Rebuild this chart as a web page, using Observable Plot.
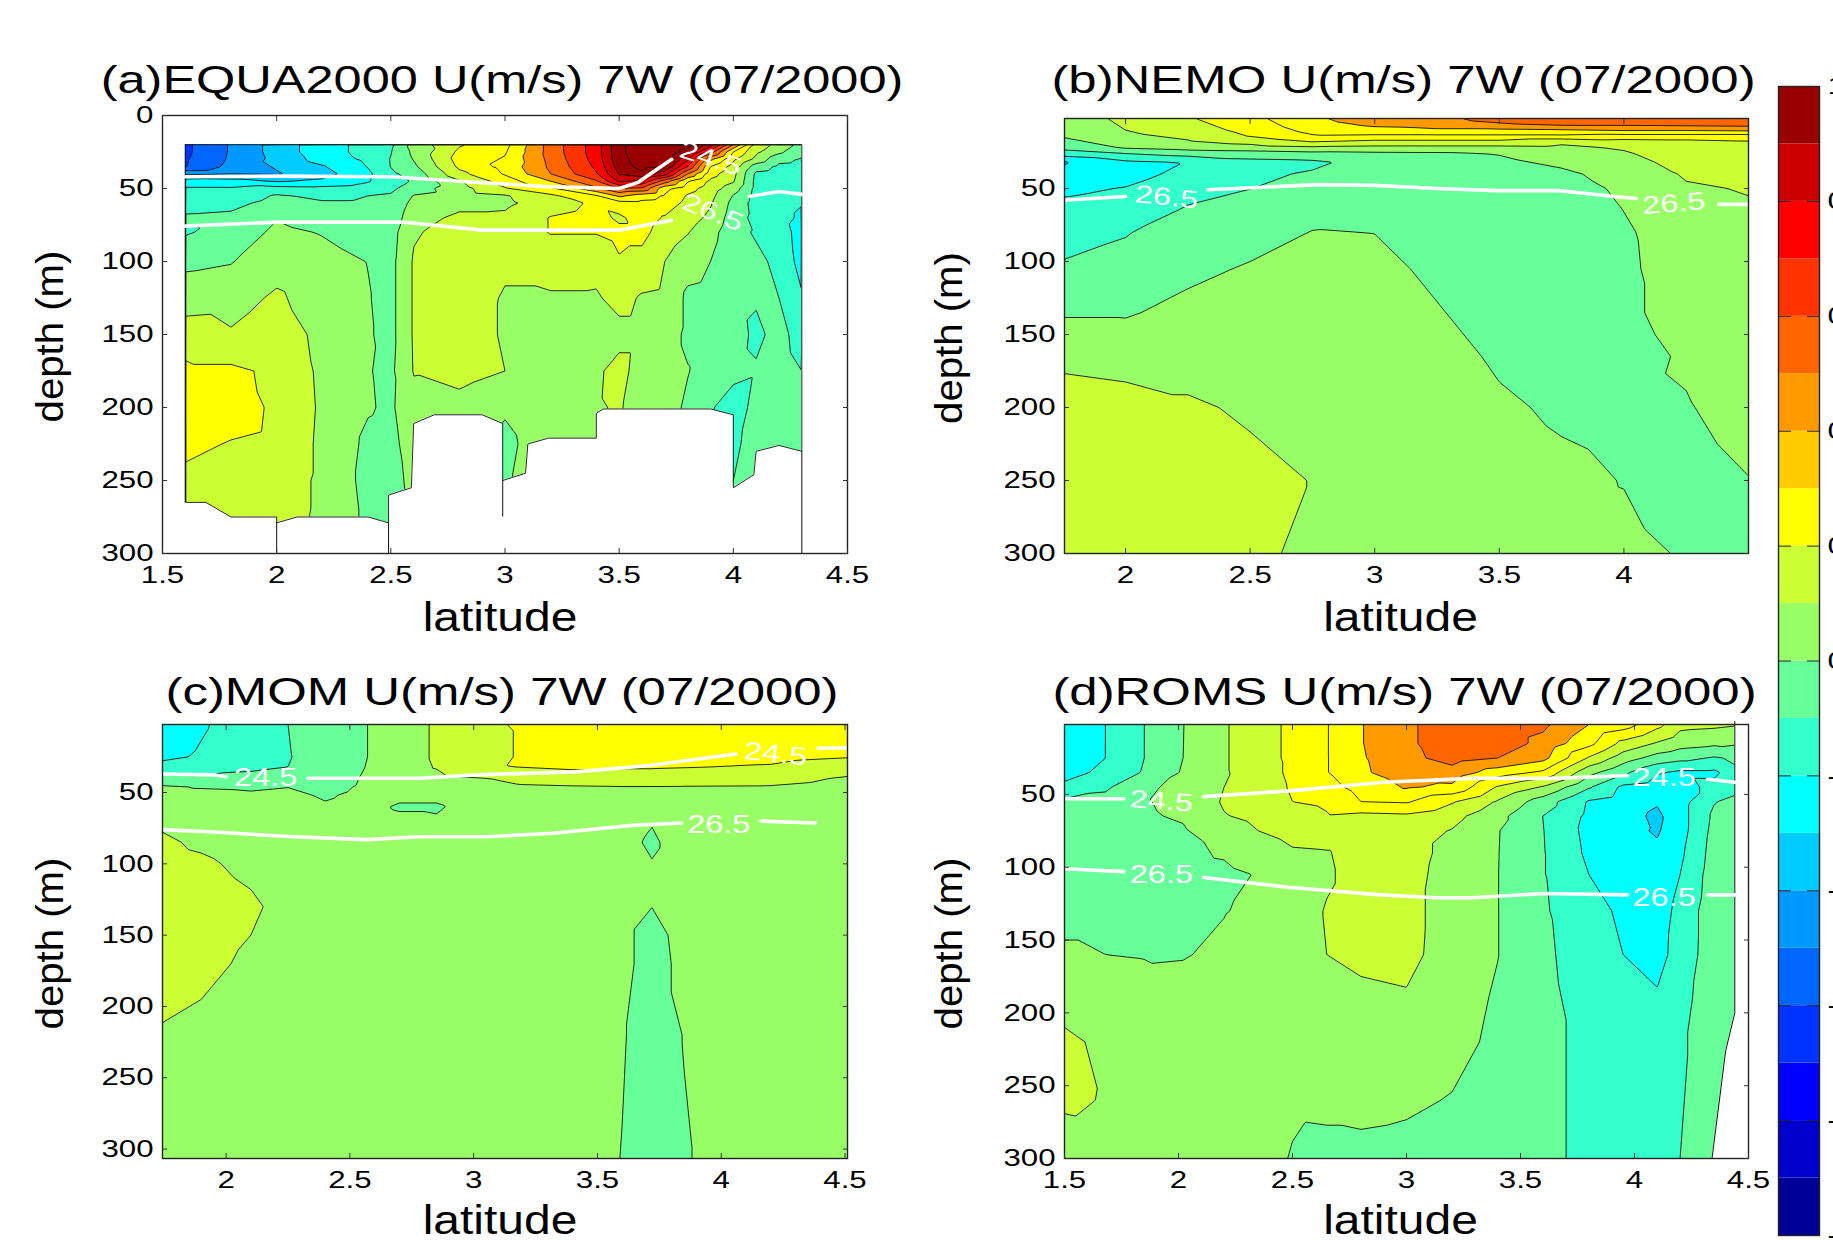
<!DOCTYPE html>
<html>
<head>
<meta charset="utf-8">
<script src="https://cdn.jsdelivr.net/npm/d3@7"></script>
<script src="https://cdn.jsdelivr.net/npm/@observablehq/plot@0.6"></script>
<style>
html,body{margin:0;padding:0;background:#fff;width:1833px;height:1240px;overflow:hidden}
#page{position:relative;width:1833px;height:1240px;overflow:hidden}
</style>
</head>
<body>
<div id="page"></div>
<script>
// contour levels and colours (m/s)
const levels = [-1,-0.9,-0.8,-0.7,-0.6,-0.5,-0.4,-0.3,-0.2,-0.1,0,0.1,0.2,0.3,0.4,0.5,0.6,0.7,0.8,0.9,1];
const barColors = ["#000099","#0000CC","#0000FF","#0033FF","#0066FF","#0099FF","#00CCFF","#00FFFF","#33FFCC","#66FF99","#99FF66","#CCFF33","#FFFF00","#FFCC00","#FF9900","#FF6600","#FF3300","#FF0000","#CC0000","#990000"];
const bandColors = ["#000099","#0000CC","#0000FF","#0033FF","#0066FF","#0099FF","#00CCFF","#00FFFF","#33FFCC","#66FF99","#99FF66","#CCFF33","#FFFF00","#FFFF00","#FF9900","#FF6600","#FF3300","#FF0000","#CC0000","#990000","#990000"];
const barTicks = [-1,-0.8,-0.6,-0.4,-0.2,0,0.2,0.4,0.6,0.8,1];

// (a) EQUA2000
const latA = [1.6,1.8,2,2.2,2.4,2.5,2.6,2.8,3,3.2,3.4,3.5,3.6,3.7,3.8,3.9,4,4.1,4.2,4.3];
const depthA = [20,25,30,35,40,45,50,55,60,70,80,100,125,150,175,200,225,250,275,300];
const uA = [
[-.62,-.62,-.61,-.605,-.42,-.25,-.19,-.16,-.13,-.09,-.11,-.02,.05,.15,.22,.27,.22,.18,.17,.15],
[-.49,-.49,-.485,-.47,-.4,-.26,-.19,-.16,-.125,-.08,-.06,-.005,.06,.11,.22,.24,.195,.17,.15,.15],
[-.36,-.36,-.37,-.39,-.41,-.31,-.16,-.09,-.07,-.005,.02,.06,.115,.16,.18,.185,.18,.16,.15,.14],
[-.24,-.24,-.26,-.31,-.34,-.28,-.17,-.12,-.09,-.04,-.005,.03,.05,.07,.08,.085,.08,.08,.08,.08],
[-.17,-.17,-.18,-.195,-.22,-.21,-.15,-.1,-.09,-.06,-.04,-.002,.005,.01,.005,.008,-.02,-.03,-.02,-.02],
[-.12,-.105,-.095,-.097,-.12,-.14,-.12,-.09,-.08,-.06,-.04,-.03,-.03,-.03,-.02,-.015,-.03,-.04,-.03,-.02],
[.04,.02,.005,-.02,-.06,-.09,-.05,.005,.03,.06,.09,.11,.11,.11,.105,.07,.05,.03,.02,.02],
[.19,.22,.24,.22,.17,.09,.06,.05,.07,.12,.14,.16,.16,.15,.14,.06,.05,.05,.05,.05],
[.27,.29,.31,.33,.31,.25,.19,.09,.08,.12,.14,.12,.09,.09,.1,.01,-.02,-.01,0,0],
[.54,.54,.53,.52,.5,.4,.28,.18,.15,.205,.205,.14,.09,.07,.065,.06,.05,.05,.05,.05],
[.75,.75,.74,.72,.69,.59,.48,.29,.22,.24,.205,.13,.09,.06,.085,.09,.09,.09,.09,.09],
[.98,.98,.97,.95,.91,.82,.6,.42,.26,.18,.23,.19,.13,.07,.13,.11,.1,.1,.1,.1],
[1.05,1.05,1.04,1.03,.98,.78,.58,.35,.27,.25,.23,.165,.09,.07,.06,.05,.05,.05,.05,.05],
[1.1,1.1,1.08,1,.85,.55,.33,.29,.26,.19,.15,.1,.08,.05,.05,.05,.05,.05,.05,.05],
[1.05,.95,.82,.7,.5,.31,.24,.19,.17,.14,.105,.04,-.02,-.02,.005,-.02,-.03,-.03,-.03,-.03],
[.85,.65,.42,.3,.24,.18,.15,.13,.11,.08,.04,0,-.03,-.04,-.05,-.09,-.1,-.1,-.1,-.1],
[.5,.3,.22,.16,.13,.11,.05,-.005,-.03,-.05,-.07,-.09,-.07,-.06,-.07,-.15,-.12,-.1,-.09,-.09],
[.17,.12,.07,-.05,-.12,-.13,-.13,-.14,-.14,-.13,-.11,-.08,-.09,-.12,-.09,-.07,-.06,-.09,-.09,-.09],
[.06,.02,-.07,-.12,-.14,-.15,-.15,-.16,-.16,-.16,-.14,-.12,-.1,-.07,-.06,-.06,-.05,-.05,-.05,-.05],
[-.03,-.08,-.11,-.13,-.15,-.16,-.17,-.18,-.195,-.22,-.25,-.24,-.19,-.14,-.1,-.07,-.06,-.05,-.05,-.05]
];
const bedLatA = [1.6,1.6,1.69,1.8,2,2,2.09,2.4,2.49,2.49,2.59,2.6,2.69,2.9,2.99,2.99,3.09,3.1,3.19,3.4,3.4,3.43,3.9,4,4,4.09,4.1,4.2,4.3,4.3];
const bedDepthA = [20,265,265,275,275,279,275,275,279,260,255,211,205,205,211,250,245,225,221,221,204,201,201,205,255,246,230,226,230,20];
const stubLatA = [2,2.49,2.99,4.3];
const stubTopA = [279,279,250,230];
const stubEndA = [300,300,275,300];
const isoLatA = [1.6,2,2.5,2.85,3.18,3.5,3.58,3.73,NaN,1.6,2,2.55,2.9,3.3,3.5,3.73,NaN,4.07,4.2,4.3];
const isoDepthA = [42,41.5,42,45.5,48.7,50,46,30,NaN,75.8,73,73,78.5,78.5,78.5,71.8,NaN,55.5,52,54];
const tagTextA = ["24.5","26.5"];
const tagLatA = [3.9,3.91];
const tagDepthA = [29.5,66.4];
const tagTurnA = [18,22];

// (b) NEMO
const latB = [1.75,2,2.25,2.5,2.75,3,3.25,3.5,3.75,4,4.25,4.5];
const depthB = [2,6,10,14,18,22,26,32,40,50,65,80,105,135,165,200,250,300];
const uB = [
[.05,.04,.03,.01,-.03,-.07,-.15,-.31,-.27,-.22,-.17,-.13,-.09,-.01,.08,.14,.17,.15],
[.12,.11,.10,.08,.05,.01,-.1,-.22,-.24,-.195,-.15,-.105,-.07,-.01,.07,.13,.16,.15],
[.19,.17,.15,.12,.09,.04,-.06,-.195,-.17,-.13,-.09,-.06,-.025,.03,.07,.11,.14,.13],
[.27,.25,.23,.205,.13,.06,-.05,-.13,-.12,-.101,-.07,-.04,.01,.04,.07,.09,.12,.12],
[.38,.36,.33,.29,.2,.08,-.03,-.12,-.09,-.07,-.03,.003,.03,.05,.07,.085,.098,.08],
[.46,.42,.37,.28,.17,.07,-.02,-.06,-.05,-.04,-.02,-.001,.02,.04,.055,.07,.08,.065],
[.48,.46,.38,.28,.17,.07,-.015,-.05,-.05,-.04,-.035,-.03,-.015,.005,.025,.04,.055,.05],
[.53,.49,.38,.28,.17,.07,.005,-.02,-.04,-.05,-.05,-.05,-.04,-.03,-.01,.01,.03,.04],
[.55,.52,.39,.28,.12,.08,.05,.02,-.02,-.05,-.06,-.06,-.05,-.04,-.03,-.01,.015,.02],
[.57,.52,.41,.26,.16,.11,.09,.07,.04,.02,.001,-.012,-.015,-.015,-.03,-.02,-.002,.015],
[.58,.53,.41,.26,.17,.16,.15,.13,.11,.09,.075,.05,.04,.03,.01,-.005,-.03,-.005],
[.595,.54,.42,.26,.19,.18,.17,.15,.13,.105,.09,.08,.07,.06,.05,.03,-.002,-.03]
];
const isoLatB = [1.75,2,NaN,2.33,2.77,3,3.25,3.49,3.74,3.96,4.05,NaN,4.38,4.5];
const isoDepthB = [58,55.4,NaN,50.8,47.3,47.8,50,51.4,51.4,55.4,56.8,NaN,60.8,60.8];
const tagTextB = ["26.5","26.5"];
const tagLatB = [2.165,4.2];
const tagDepthB = [56,60.3];
const tagTurnB = [6,-5];

// (c) MOM
const latC = [1.74,1.9,2.1,2.25,2.4,2.55,2.7,2.85,3.1,3.4,3.6,3.72,3.85,4.2,4.52];
const depthC = [2,25,32,40,46,52,60,70,85,100,130,170,220,307];
const uC = [
[-.25,-.22,-.17,-.05,.01,.02,.04,.09,.11,.12,.14,.125,.095,.07],
[-.21,-.19,-.15,-.08,-.005,.02,.04,.06,.09,.11,.13,.115,.085,.06],
[-.15,-.14,-.12,-.07,-.01,.01,.03,.05,.07,.085,.11,.09,.06,.05],
[-.1,-.105,-.1,-.05,-.002,.02,.04,.05,.06,.07,.08,.07,.055,.05],
[-.05,-.06,-.07,-.05,-.03,-.01,.01,.04,.05,.055,.06,.06,.05,.05],
[-.01,-.01,-.005,.005,.01,.02,.03,.04,.05,.05,.05,.05,.05,.05],
[.06,.06,.06,.06,.05,.02,-.01,.02,.05,.05,.05,.05,.05,.05],
[.11,.11,.105,.08,.05,.02,-.01,.01,.05,.05,.05,.05,.05,.05],
[.19,.19,.195,.105,.085,.07,.06,.05,.05,.05,.05,.05,.05,.05],
[.28,.24,.22,.14,.095,.07,.06,.05,.045,.04,.04,.04,.04,.04],
[.29,.25,.21,.15,.098,.07,.05,.03,.02,.02,.02,.02,.005,-.002],
[.29,.25,.21,.15,.098,.07,.04,.004,-.01,.003,.0005,-.03,-.03,-.03],
[.29,.24,.205,.14,.097,.07,.05,.04,.03,.03,.03,.02,.002,-.005],
[.29,.23,.19,.13,.095,.07,.05,.05,.05,.05,.05,.05,.05,.05],
[.29,.205,.14,.09,.07,.06,.05,.05,.05,.05,.05,.05,.05,.05]
];
const isoLatC = [1.745,1.95,2,NaN,2.33,2.78,3.01,3.41,3.71,4.06,NaN,4.39,4.51,NaN,1.745,1.95,2.27,2.57,2.78,3.06,3.32,3.64,3.84,NaN,4.16,4.38];
const isoDepthC = [37,37.6,39,NaN,40,40,37.6,35.5,31,23,NaN,19,18.6,NaN,76,77.7,81,83,81,81,78.5,73,71.4,NaN,70,71.4];
const tagTextC = ["24.5","24.5","26.5"];
const tagLatC = [2.16,4.22,3.99];
const tagDepthC = [39.7,23,73];
const tagTurnC = [0,6,0];

// (d) ROMS
const latD = [1.5,1.68,1.85,2.02,2.2,2.35,2.5,2.65,2.8,3,3.2,3.4,3.6,3.8,3.95,4.1,4.2,4.35,4.5];
const depthD = [2,15,25,35,45,55,65,75,90,105,130,160,190,220,260,300];
const uD = [
[-.27,-.26,-.25,-.23,-.18,-.08,-.06,-.05,-.04,-.03,-.02,.01,.06,.12,.115,.05],
[-.2,-.2,-.2,-.18,-.115,-.07,-.05,-.04,-.03,-.03,-.02,0,.05,.08,.095,.06],
[-.1,-.1,-.1,-.09,-.02,-.005,-.01,-.03,-.03,-.03,-.02,-.005,.04,.06,.07,.05],
[-.002,-.001,0,.01,.03,.02,.01,-.01,-.02,-.03,-.03,-.003,.02,.04,.05,.05],
[.09,.09,.09,.09,.1,.11,.095,.06,.01,-.02,-.002,.01,.03,.05,.05,.05],
[.16,.16,.16,.15,.15,.14,.12,.1,.05,.005,.01,.03,.05,.05,.04,.03],
[.22,.22,.22,.22,.21,.2,.15,.13,.09,.07,.06,.06,.06,.05,.012,-.005],
[.295,.295,.295,.295,.27,.22,.19,.14,.095,.09,.105,.1,.06,.05,.015,-.02],
[.395,.395,.39,.385,.33,.3,.17,.14,.13,.13,.13,.12,.08,.05,.02,-.02],
[.48,.48,.47,.45,.41,.31,.18,.14,.14,.135,.135,.13,.09,.05,.015,-.03],
[.56,.56,.54,.46,.38,.21,.13,.095,.07,.06,.05,.05,.04,.03,-.005,-.03],
[.56,.56,.5,.35,.19,.09,.03,.005,.003,.002,.002,.002,-.01,-.02,-.03,-.05],
[.52,.47,.43,.28,.09,-.05,-.102,-.098,-.095,-.095,-.09,-.085,-.08,-.07,-.07,-.07],
[.4,.33,.19,.03,-.09,-.21,-.22,-.23,-.22,-.2,-.16,-.14,-.13,-.13,-.13,-.13],
[.35,.17,.05,-.08,-.22,-.25,-.26,-.27,-.27,-.26,-.22,-.2,-.16,-.13,-.12,-.12],
[.23,.09,-.04,-.19,-.25,-.29,-.32,-.31,-.28,-.27,-.25,-.23,-.19,-.15,-.13,-.12],
[.13,.04,-.07,-.22,-.24,-.24,-.24,-.24,-.22,-.2,-.17,-.165,-.14,-.12,-.11,-.1],
[.12,.02,-.11,-.22,-.17,-.105,-.08,-.07,-.06,-.05,-.04,-.04,-.03,-.03,-.03,-.03],
[.1,0,-.07,-.1,-.07,-.05,-.04,-.03,-.03,-.03,-.02,-.02,-.02,-.02,-.02,-.02]
];
const edgeLatD = [4.44,4.44,4.4,4.34];
const edgeDepthD = [0,200,226,300];
const isoLatD = [1.5,1.76,NaN,2.11,2.5,2.9,3.29,3.65,3.97,NaN,4.32,4.44,NaN,1.5,1.76,NaN,2.11,2.48,2.87,3.13,3.29,3.6,3.97,NaN,4.32,4.44];
const isoDepthD = [53,53,NaN,51.5,47.4,41.7,39,39,37,NaN,39.6,41.7,NaN,101,103,NaN,107,113.7,118.8,121,121,118,119,NaN,119,119];
const tagTextD = ["24.5","24.5","26.5","26.5"];
const tagLatD = [1.925,4.13,1.925,4.13];
const tagDepthD = [54.7,38.4,105,121];
const tagTurnD = [4,0,0,0];

// axes and titles
const depthTicksFull = [0,50,100,150,200,250,300];
const depthTicks = [50,100,150,200,250,300];
const latTicksFull = [1.5,2,2.5,3,3.5,4,4.5];
const latTicksNoEnds = [2,2.5,3,3.5,4];
const latTicksNoStart = [2,2.5,3,3.5,4,4.5];
const titles = ["(a)EQUA2000 U(m/s) 7W (07/2000)","(b)NEMO U(m/s) 7W (07/2000)","(c)MOM U(m/s) 7W (07/2000)","(d)ROMS U(m/s) 7W (07/2000)"];
const xLabel = "latitude";
const yLabel = "depth (m)";

const FONT = "'Liberation Sans', Arial, sans-serif";
const page = document.getElementById("page");
const plain = d => String(d);

function stretch(svg) {
  svg.querySelectorAll("text").forEach(t => {
    const s = t.textContent;
    let k = 1.3;
    if (s.startsWith("(a)")) k = 1.295;
    else if (s.startsWith("(")) k = 1.305;
    else if (s === xLabel) k = 1.17;
    else if (s === yLabel) k = 1.03;
    t.setAttribute("textLength", (t.getComputedTextLength() * k).toFixed(1));
    t.setAttribute("lengthAdjust", "spacingAndGlyphs");
  });
}

function table(lats, depths, u) {
  return lats.flatMap((lat, i) => depths.map((depth, j) => ({lat, depth, u: u[i][j]})));
}

function panel(o) {
  const width = o.box[2] - o.box[0], height = o.box[3] - o.box[1];
  const isoIdx = d3.range(o.isoLat.length);
  const tagIdx = d3.range(o.tagText.length);
  const chart = Plot.plot({
    width, height,
    marginLeft: o.frame[0] - o.box[0],
    marginRight: o.box[2] - o.frame[2],
    marginTop: o.frame[1] - o.box[1],
    marginBottom: o.box[3] - o.frame[3],
    x: {domain: o.xDomain},
    y: {domain: o.yDomain, reverse: true},
    color: {type: "threshold", domain: levels.slice(1), range: bandColors},
    style: {position: "absolute", left: o.box[0] + "px", top: o.box[1] + "px", fontFamily: FONT, background: "transparent", maxWidth: "none", overflow: "visible", color: "#000"},
    marks: [
      Plot.contour(table(o.lat, o.depth, o.u), {
        x: "lat", y: "depth", value: "u", fill: "value", stroke: "#111", strokeWidth: 0.9,
        thresholds: levels, interpolate: "barycentric", pixelSize: 1
      }),
      ...(o.extra || []),
      Plot.line(isoIdx, {x: i => o.isoLat[i], y: i => o.isoDepth[i], stroke: "white", strokeWidth: 3.6}),
      Plot.text(tagIdx, {x: i => o.tagLat[i], y: i => o.tagDepth[i], text: i => o.tagText[i], rotate: i => o.tagTurn[i], fill: "white", fontSize: 25}),
      Plot.frame({stroke: "#222", strokeWidth: 1.4}),
      Plot.axisX({anchor: "bottom", ticks: o.xTicks, tickFormat: plain, tickSize: -5, tickPadding: 17, fontSize: 24, label: null, stroke: "#333"}),
      Plot.axisX({anchor: "top", ticks: o.xTicks, tickSize: -5, fill: "none", label: null, stroke: "#333"}),
      Plot.axisY({anchor: "left", ticks: o.yTicks, tickFormat: plain, tickSize: -5, tickPadding: 14, fontSize: 24, label: null, stroke: "#333"}),
      Plot.axisY({anchor: "right", ticks: o.yTicks, tickSize: -5, fill: "none", label: null, stroke: "#333"}),
      Plot.text([o.title], {frameAnchor: "top", dx: o.titleShift[0], dy: o.titleShift[1], fontSize: 39, fill: "#000"}),
      Plot.text([xLabel], {frameAnchor: "bottom", dx: o.xLabelShift, dy: o.xLabelDrop, fontSize: 41, fill: "#000"}),
      Plot.text([yLabel], {frameAnchor: "left", textAnchor: "middle", dx: o.yLabelShift, dy: 2, fontSize: 39, rotate: -90, fill: "#000"})
    ]
  });
  page.appendChild(chart);
  stretch(chart);
}

// (a): white outside the sampled section, with its outline and the stubs under the sea bed
const outLat1A = [1.5,1.5,4.3,1.59];
const outLat2A = [4.5,1.6,4.5,1.62];
const outDepth1A = [0,0,0,266];
const outDepth2A = [20,300,300,300];
const idxOutA = d3.range(outLat1A.length);
const idxBedA = d3.range(bedLatA.length - 1).slice(1);
const extraA = [
  Plot.areaY(idxBedA, {x: i => bedLatA[i], y1: i => bedDepthA[i], y2: () => 300, fill: "white"}),
  Plot.rect(idxOutA, {x1: i => outLat1A[i], x2: i => outLat2A[i], y1: i => outDepth1A[i], y2: i => outDepth2A[i], fill: "white"}),
  Plot.line(d3.range(bedLatA.length + 1), {x: i => bedLatA[i % bedLatA.length], y: i => bedDepthA[i % bedLatA.length], stroke: "#111", strokeWidth: 0.9}),
  Plot.ruleX(d3.range(stubLatA.length), {x: i => stubLatA[i], y1: i => stubTopA[i], y2: i => stubEndA[i], stroke: "#111", strokeWidth: 1})
];
const idxEdgeD = d3.range(edgeLatD.length);
const extraD = [
  Plot.areaX(idxEdgeD, {y: i => edgeDepthD[i], x1: i => edgeLatD[i], x2: () => 4.5, fill: "white"}),
  Plot.line(idxEdgeD, {x: i => edgeLatD[i], y: i => edgeDepthD[i], stroke: "#111", strokeWidth: 1})
];

panel({box:[0,40,925,645], frame:[162,115,847,553], xDomain:[1.5,4.5], yDomain:[0,300],
  lat:latA, depth:depthA, u:uA, extra:extraA,
  isoLat:isoLatA, isoDepth:isoDepthA, tagText:tagTextA, tagLat:tagLatA, tagDepth:tagDepthA, tagTurn:tagTurnA,
  xTicks:latTicksFull, yTicks:depthTicksFull, title:titles[0], titleShift:[-3,-50], xLabelShift:-5, xLabelDrop:77, yLabelShift:-112});
panel({box:[925,40,1770,645], frame:[1064,118,1748,553], xDomain:[1.755,4.5], yDomain:[2,300],
  lat:latB, depth:depthB, u:uB,
  isoLat:isoLatB, isoDepth:isoDepthB, tagText:tagTextB, tagLat:tagLatB, tagDepth:tagDepthB, tagTurn:tagTurnB,
  xTicks:latTicksNoEnds, yTicks:depthTicks, title:titles[1], titleShift:[-3,-53], xLabelShift:-6, xLabelDrop:77, yLabelShift:-115});
panel({box:[0,650,925,1240], frame:[162,724,847,1158], xDomain:[1.743,4.51], yDomain:[2.3,306.6],
  lat:latC, depth:depthC, u:uC,
  isoLat:isoLatC, isoDepth:isoDepthC, tagText:tagTextC, tagLat:tagLatC, tagDepth:tagDepthC, tagTurn:tagTurnC,
  xTicks:latTicksNoStart, yTicks:depthTicks, title:titles[2], titleShift:[-3,-47], xLabelShift:-5, xLabelDrop:75, yLabelShift:-112});
panel({box:[925,650,1770,1240], frame:[1064,724,1748,1158], xDomain:[1.5,4.5], yDomain:[2,300],
  lat:latD, depth:depthD, u:uD, extra:extraD,
  isoLat:isoLatD, isoDepth:isoDepthD, tagText:tagTextD, tagLat:tagLatD, tagDepth:tagDepthD, tagTurn:tagTurnD,
  xTicks:latTicksFull, yTicks:depthTicks, title:titles[3], titleShift:[-2,-47], xLabelShift:-6, xLabelDrop:75, yLabelShift:-115});

// colour bar
const barIdx = d3.range(barColors.length);
const bar = Plot.plot({
  width: 63, height: 1240,
  marginLeft: 8, marginRight: 14, marginTop: 86, marginBottom: 5,
  x: {domain: [0, 1], axis: null},
  y: {domain: [-1, 1]},
  style: {position: "absolute", left: "1770px", top: "0px", fontFamily: FONT, background: "transparent", maxWidth: "none", color: "#000"},
  marks: [
    Plot.rect(barIdx, {x1: () => 0, x2: () => 1, y1: i => levels[i], y2: i => levels[i + 1], fill: i => barColors[i]}),
    Plot.frame({stroke: "#222", strokeWidth: 1.4}),
    Plot.axisY({anchor: "left", ticks: barTicks, tickSize: -13, fill: "none", label: null, stroke: "#222"}),
    Plot.axisY({anchor: "right", ticks: barTicks, tickFormat: plain, tickSize: -13, tickPadding: 21, fontSize: 24, label: null, stroke: "#222"})
  ]
});
page.appendChild(bar);
stretch(bar);
</script>
</body>
</html>
